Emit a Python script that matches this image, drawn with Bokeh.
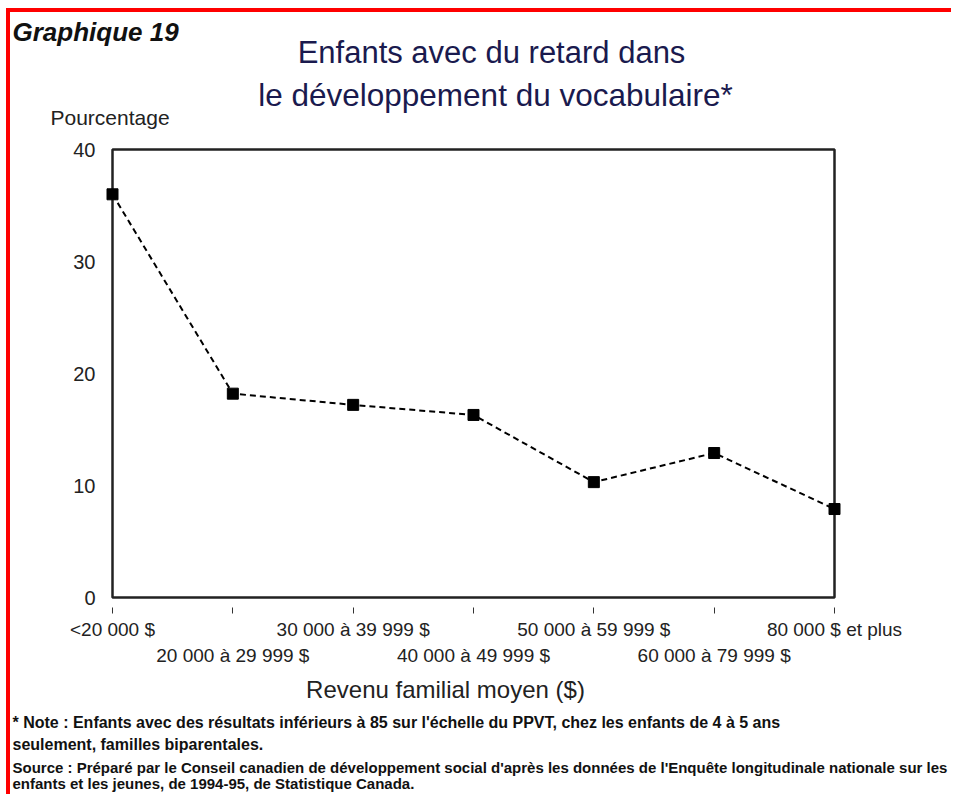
from bokeh.plotting import figure
from bokeh.models import Label, LinearAxis, FixedTicker, Range1d
from bokeh.embed import file_html
from bokeh.resources import INLINE

# ---- data ----
categories = ["<20 000 $", "20 000 à 29 999 $", "30 000 à 39 999 $",
              "40 000 à 49 999 $", "50 000 à 59 999 $", "60 000 à 79 999 $",
              "80 000 $ et plus"]
values = [36.0, 18.2, 17.2, 16.3, 10.3, 12.9, 7.9]
y_ticks = [0, 10, 20, 30, 40]

graph_tag = "Graphique 19"
title_lines = ["Enfants avec du retard dans", "le développement du vocabulaire*"]
y_title = "Pourcentage"
x_title = "Revenu familial moyen ($)"
notes = [
    "* Note : Enfants avec des résultats inférieurs à 85 sur l'échelle du PPVT, chez les enfants de 4 à 5 ans",
    "seulement, familles biparentales.",
    "Source : Préparé par le Conseil canadien de développement social d'après les données de l'Enquête longitudinale nationale sur les",
    "enfants et les jeunes, de 1994-95, de Statistique Canada.",
]

# ---- layout: page-pixel geometry ----
BOX_L, BOX_R, BOX_T, BOX_B = 112, 834, 149, 597   # plot box on the page
OX, OY = 10, 12                                   # canvas origin on the page
W, H = 945, 786
n = len(categories)
ymax = y_ticks[-1]
ux = (BOX_R - BOX_L) / (n - 1)
uy = (BOX_B - BOX_T) / ymax


def dx(px):
    return (px - BOX_L) / ux


def dy(py):
    return (BOX_B - py) / uy


xs = list(range(n))
FONT = "Liberation Sans"

p = figure(width=W, height=H,
           x_range=Range1d(dx(OX), dx(OX + W)),
           y_range=Range1d(dy(OY + H), dy(OY)),
           x_axis_type=None, y_axis_type=None,
           output_backend="svg", toolbar_location=None,
           min_border=0)
p.outline_line_color = None
p.background_fill_color = "white"
p.border_fill_color = "white"
p.styles = {"margin-top": "8px", "margin-left": "6px",
            "border-top": "4px solid #ff0000", "border-left": "4px solid #ff0000"}

# plot box
p.quad(left=[0], right=[n - 1], bottom=[0], top=[ymax],
       fill_color=None, line_color="#222222", line_width=2.5)

# data
p.line(xs, values, line_color="black", line_width=2, line_dash="6 4")
p.scatter(xs, values, marker="square", size=11, fill_color="black", line_color="black")

# y axis (fixed at x = 0)
yax = LinearAxis(ticker=FixedTicker(ticks=y_ticks, minor_ticks=[]), fixed_location=0)
yax.axis_line_color = None
yax.major_tick_line_color = None
yax.major_tick_out = 0
yax.major_tick_in = 0
yax.major_label_standoff = 17
yax.major_label_text_font = FONT
yax.major_label_text_font_size = "20px"
yax.major_label_text_color = "#222222"
p.add_layout(yax, "left")

# x axis, row 1 (even categories) with ticks (fixed at y = 0)
ov1 = {i: (categories[i] if i % 2 == 0 else "") for i in xs}
xax1 = LinearAxis(ticker=FixedTicker(ticks=xs, minor_ticks=[]),
                  major_label_overrides=ov1, fixed_location=0)
xax1.axis_line_color = None
xax1.major_tick_line_color = "#333333"
xax1.major_tick_line_width = 1
xax1.major_tick_in = -10
xax1.major_tick_out = 16
xax1.major_label_standoff = 5
xax1.major_label_text_font = FONT
xax1.major_label_text_font_size = "19px"
xax1.major_label_text_color = "#222222"
p.add_layout(xax1, "below")

# x axis, row 2 (odd categories)
odd = [i for i in xs if i % 2 == 1]
ov2 = {i: categories[i] for i in odd}
xax2 = LinearAxis(ticker=FixedTicker(ticks=odd, minor_ticks=[]),
                  major_label_overrides=ov2, fixed_location=0)
xax2.axis_line_color = None
xax2.major_tick_line_color = None
xax2.major_tick_in = 0
xax2.major_tick_out = 0
xax2.major_label_standoff = 47
xax2.major_label_text_font = FONT
xax2.major_label_text_font_size = "19px"
xax2.major_label_text_color = "#222222"
p.add_layout(xax2, "below")


def lab(px, py, text, size, align="left", color="#222222", style="normal"):
    p.add_layout(Label(x=dx(px), y=dy(py), text=text, text_font=FONT,
                       text_font_size=size, text_align=align,
                       text_baseline="alphabetic", text_color=color,
                       text_font_style=style))


lab(12, 31, graph_tag, "26px", style="bold italic", color="#111111")
lab(491, 52, title_lines[0], "31px", align="center", color="#1a1a4e")
lab(495, 94, title_lines[1], "31.5px", align="center", color="#1a1a4e")
lab(50, 117, y_title, "21px")
lab(445, 689, x_title, "24px", align="center")

note_base = [722, 744, 767, 783]
note_size = ["16px", "16px", "15px", "15px"]
for t, yb, sz in zip(notes, note_base, note_size):
    lab(12, yb, t, sz, style="bold", color="#111111")

open("out.html", "w").write(file_html(p, INLINE))
